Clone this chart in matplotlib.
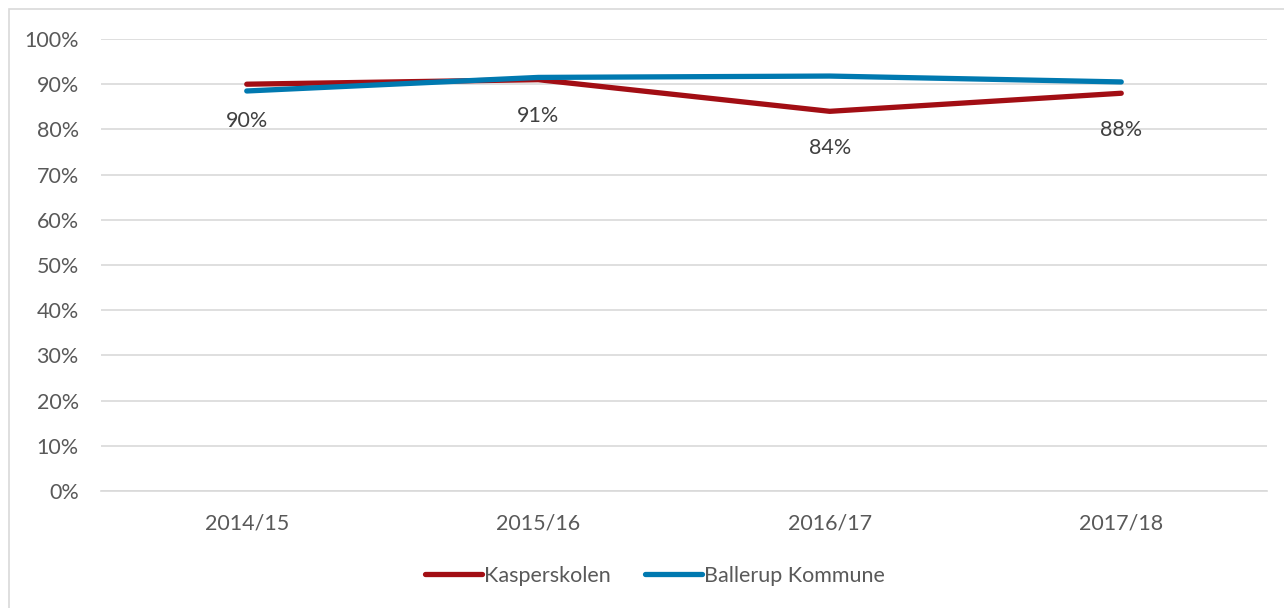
import matplotlib.pyplot as plt
from matplotlib.patches import Rectangle

# Data
years = ['2014/15', '2015/16', '2016/17', '2017/18']
kasperskolen = [90, 91, 84, 88]
ballerup = [88.5, 91.5, 91.8, 90.5]
yticks = [0, 10, 20, 30, 40, 50, 60, 70, 80, 90, 100]

red = '#A20E14'
blue = '#0079B0'
grid = '#D9D9D9'
txt = '#595959'
fs = 15.5

plt.rcParams['font.family'] = ['Lato', 'DejaVu Sans']

fig = plt.figure(figsize=(12.84, 6.08), dpi=100)
# outer chart frame
fig.patches.append(Rectangle((9 / 1284, -0.01), 1.02, 1 - 9 / 608 + 0.01,
                             transform=fig.transFigure, fill=False,
                             edgecolor=grid, linewidth=1.2))

ax = fig.add_axes([101 / 1284, 1 - 491 / 608, (1267 - 101) / 1284, (491 - 39) / 608])

x = list(range(len(years)))
ax.plot(x, kasperskolen, color=red, lw=3.8, solid_capstyle='round',
        solid_joinstyle='round', label='Kasperskolen', zorder=3)
ax.plot(x, ballerup, color=blue, lw=3.8, solid_capstyle='round',
        solid_joinstyle='round', label='Ballerup Kommune', zorder=4)

for xi, v in zip(x, kasperskolen):
    ax.annotate(f'{v}%', (xi, v), xytext=(0, -26.5), textcoords='offset points',
                ha='center', va='center', fontsize=fs, color='#404040')

ax.set_xlim(-0.5, 3.5)
ax.set_ylim(0, 100)
ax.set_yticks(yticks)
ax.set_yticklabels([f'{t}%' for t in yticks])
ax.set_xticks(x)
ax.set_xticklabels(years)
ax.tick_params(axis='both', length=0, labelsize=fs, labelcolor=txt)
ax.tick_params(axis='y', pad=16)
ax.tick_params(axis='x', pad=16)
ax.grid(axis='y', color=grid, lw=1.2)
ax.set_axisbelow(True)
for s in ax.spines.values():
    s.set_visible(False)
ax.spines['bottom'].set_visible(True)
ax.spines['bottom'].set_color(grid)
ax.spines['bottom'].set_linewidth(1.2)

leg = fig.legend(loc='center', bbox_to_anchor=(655 / 1284, 1 - 576 / 608),
                 ncol=2, frameon=False, fontsize=fs, handlelength=2.65,
                 handletextpad=0.1, columnspacing=1.6)
for t in leg.get_texts():
    t.set_color(txt)

fig.savefig('out.png', dpi=100)
